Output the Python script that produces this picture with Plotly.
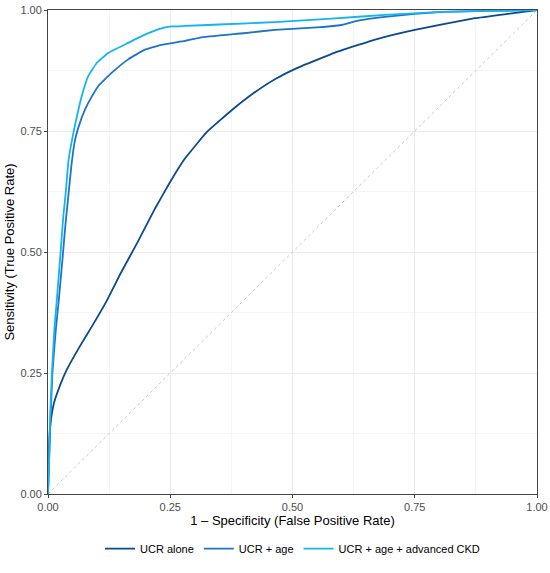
import plotly.graph_objects as go

# ROC curve data (FPR, TPR)
fpr_ucr = [0.0, 0.001, 0.003, 0.005, 0.012, 0.026, 0.038, 0.065, 0.092, 0.12, 0.147,
           0.183, 0.219, 0.25, 0.28, 0.325, 0.378, 0.42, 0.464, 0.511, 0.587, 0.669,
           0.75, 0.873, 0.94, 1.0]
tpr_ucr = [0.0, 0.06, 0.12, 0.145, 0.187, 0.228, 0.256, 0.305, 0.35, 0.399, 0.453,
           0.52, 0.59, 0.645, 0.693, 0.748, 0.795, 0.828, 0.857, 0.881, 0.912, 0.939,
           0.959, 0.983, 0.992, 1.0]

fpr_age = [0.0, 0.002, 0.005, 0.009, 0.016, 0.022, 0.03, 0.036, 0.041, 0.048, 0.055,
           0.062, 0.076, 0.09, 0.103, 0.13, 0.164, 0.198, 0.232, 0.28, 0.311, 0.4,
           0.464, 0.55, 0.6, 0.634, 0.689, 0.75, 0.806, 0.9, 1.0]
tpr_age = [0.0, 0.06, 0.15, 0.25, 0.34, 0.40, 0.49, 0.56, 0.61, 0.68, 0.73,
           0.757, 0.795, 0.822, 0.843, 0.87, 0.898, 0.918, 0.928, 0.936, 0.943, 0.952,
           0.959, 0.964, 0.969, 0.978, 0.986, 0.992, 0.996, 0.998, 1.0]

fpr_ckd = [0.0, 0.002, 0.004, 0.008, 0.013, 0.018, 0.025, 0.031, 0.036, 0.042, 0.055,
           0.069, 0.082, 0.1, 0.123, 0.164, 0.198, 0.232, 0.253, 0.28, 0.35, 0.464,
           0.58, 0.689, 0.806, 0.9, 1.0]
tpr_ckd = [0.0, 0.06, 0.15, 0.25, 0.34, 0.40, 0.49, 0.57, 0.62, 0.69, 0.761,
           0.822, 0.863, 0.891, 0.911, 0.932, 0.949, 0.962, 0.966, 0.967, 0.970, 0.975,
           0.982, 0.99, 0.996, 0.998, 1.0]

ref_line = [0.0, 1.0]

names = ["UCR alone", "UCR + age", "UCR + age + advanced CKD"]
colors = ["#0b4a8e", "#1d74c8", "#14b4f0"]

fig = go.Figure()
fig.add_trace(go.Scatter(x=ref_line, y=ref_line, mode="lines",
                         line=dict(color="#c8c8c8", width=1, dash="dot"),
                         showlegend=False, hoverinfo="skip"))
for fx, ty, nm, col in zip([fpr_ucr, fpr_age, fpr_ckd], [tpr_ucr, tpr_age, tpr_ckd], names, colors):
    fig.add_trace(go.Scatter(x=fx, y=ty, mode="lines", name=nm,
                             line=dict(color=col, width=1.8, shape="spline", smoothing=0.3)))

tickvals = [0, 0.25, 0.5, 0.75, 1.0]
ticktext = ["0.00", "0.25", "0.50", "0.75", "1.00"]
axis_common = dict(
    range=[0, 1], tickvals=tickvals, ticktext=ticktext, automargin=False,
    showgrid=True, gridcolor="#ebebeb", gridwidth=1,
    minor=dict(tickvals=[0.125, 0.375, 0.625, 0.875], showgrid=True,
               gridcolor="#f5f5f5", gridwidth=1, ticks=""),
    zeroline=False, showline=True, linecolor="#444444", linewidth=1, mirror=True,
    ticks="outside", ticklen=3, tickcolor="#444444",
    tickfont=dict(family="Liberation Sans, Arial", size=11, color="#4d4d4d"),
)
fig.update_xaxes(**axis_common,
                 title=dict(text="1 \u2013 Specificity (False Positive Rate)",
                            font=dict(family="Liberation Sans, Arial", size=13, color="#000000"),
                            standoff=2))
fig.update_yaxes(**axis_common,
                 title=dict(text="Sensitivity (True Positive Rate)",
                            font=dict(family="Liberation Sans, Arial", size=13, color="#000000"),
                            standoff=2))

fig.update_layout(
    width=550, height=573,
    margin=dict(l=48, r=13, t=10, b=75),
    plot_bgcolor="white", paper_bgcolor="white",
    legend=dict(orientation="h", x=0.5, xanchor="center", y=-0.113, yanchor="middle",
                font=dict(family="Liberation Sans, Arial", size=11, color="#000000"),
                itemwidth=30, tracegroupgap=0),
    showlegend=True,
)

fig.write_html("out.html", config={"displayModeBar": False},
               post_script="document.body.style.margin='0';document.body.style.overflow='hidden';")
